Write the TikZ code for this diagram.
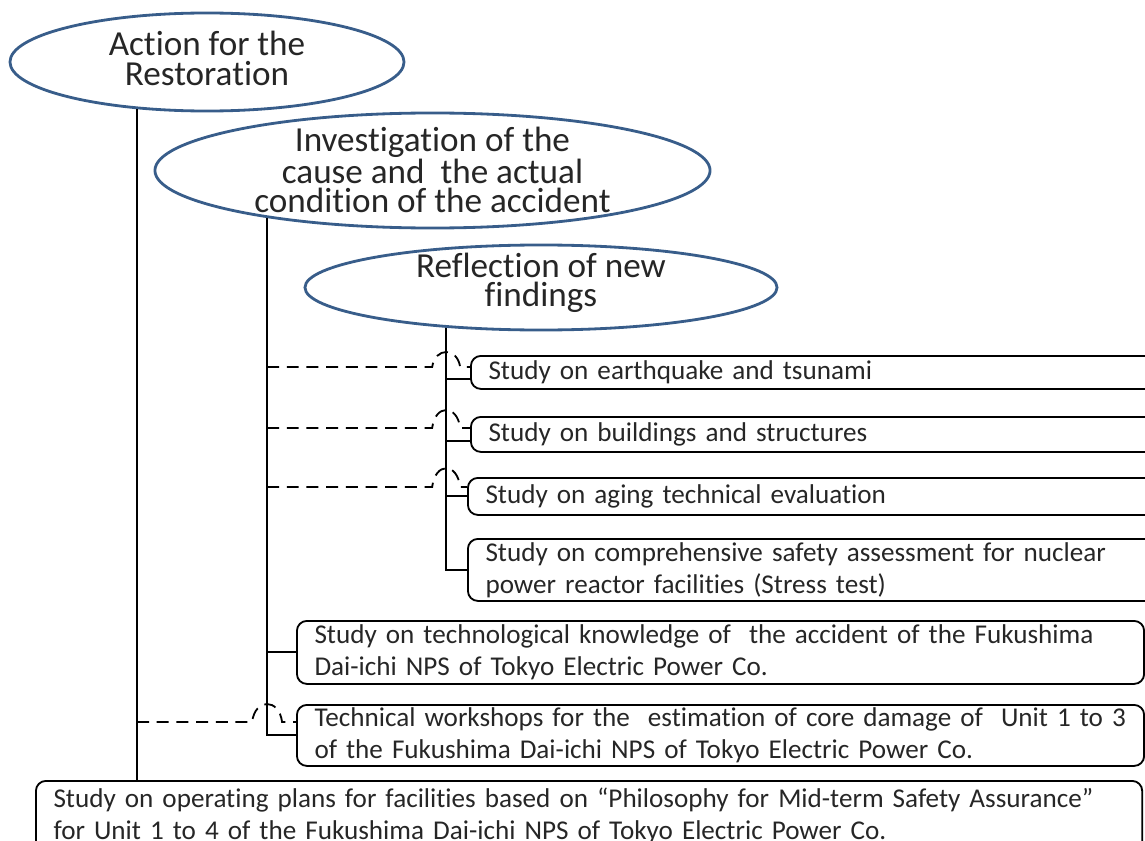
\documentclass[tikz,border=0pt]{standalone}
\usepackage{fontspec}
\setmainfont{Carlito}[Ligatures=NoCommon]
\usetikzlibrary{shapes.geometric}
\definecolor{ovalblue}{HTML}{385D8A}
\definecolor{inktext}{HTML}{262626}

\tikzset{
  oval/.style={draw=ovalblue, line width=2pt, ellipse, inner sep=0pt},
  ovaltext/.style={align=center, text=inktext, font=\fontsize{25}{20.8}\selectfont},
  studybox/.style={draw, line width=1.3pt, rounded corners=0.25cm, anchor=north west,
    align=left, inner xsep=0.44cm, inner ysep=0pt, text=inktext,
    font=\fontsize{19.3}{22.7}\selectfont},
  spine/.style={line width=1.5pt},
  hop/.style={line width=1.3pt, dash pattern=on 8.5pt off 5.5pt},
}

\begin{document}
\begin{tikzpicture}[x=0.025cm, y=-0.025cm]

\useasboundingbox (0,0) rectangle (1145,841);
\clip (0,0) rectangle (1145,841);

% ovals
\node[oval, minimum width=9.85cm, minimum height=2.45cm] (act) at (207,62) {};
\node[ovaltext] (acttext) at (207,58.5) {Action for the\\Restoration};

\node[oval, minimum width=13.875cm, minimum height=2.875cm] (inv) at (432.5,170.5) {};
\node[ovaltext] (invtext) at (432.5,170) {Investigation of the\\cause and~ the actual\\condition of the accident};

\node[oval, minimum width=11.8cm, minimum height=2.125cm] (refl) at (541,287.5) {};
\node[ovaltext] (refltext) at (541,283) {Reflection of new\\findings};

% study boxes
\node[studybox, text width=16.37cm, minimum height=0.825cm] (quake) at (470,355)
  {Study on earthquake and tsunami};
\node[studybox, text width=16.37cm, minimum height=0.875cm] (bldg) at (470,416)
  {Study on buildings and structures};
\node[studybox, text width=16.445cm, minimum height=0.925cm] (aging) at (467,477)
  {Study on aging technical evaluation};
\node[studybox, text width=16.445cm, minimum height=1.55cm] (stress) at (467,538)
  {Study on comprehensive safety assessment for nuclear\\power reactor facilities (Stress test)};
\node[studybox, text width=20.295cm, minimum height=1.575cm] (know) at (296,620)
  {Study on technological knowledge of~ the accident of the Fukushima\\Dai-ichi NPS of Tokyo Electric Power Co.};
\node[studybox, text width=20.295cm, minimum height=1.525cm] (tech) at (296,704)
  {Technical workshops for the~ estimation of core damage of~ Unit 1 to 3\\of the Fukushima Dai-ichi NPS of Tokyo Electric Power Co.};
\node[studybox, text width=26.77cm, minimum height=1.75cm] (plan) at (35,780)
  {Study on operating plans for facilities based on “Philosophy for Mid-term Safety Assurance”\\for Unit 1 to 4 of the Fukushima Dai-ichi NPS of Tokyo Electric Power Co.};

% solid spines
\draw[spine] (act.214.2) -- (act.214.2 |- plan.north);
\draw[spine] (inv.196.6) |- (tech.west);
\draw[spine] (inv.196.6 |- know.west) -- (know.west);
\draw[spine] (refl.203.4) |- (stress.west);
\draw[spine] (aging.west) -- (aging.west -| refl.203.4);
\draw[spine] (quake.west) ++(0,7) coordinate (qa) -- (qa -| refl.203.4);
\draw[spine] (bldg.west) ++(0,7) coordinate (ba) -- (ba -| refl.203.4);

% dashed links with hops
\coordinate (h1) at (270,367);
\coordinate (h2) at (270,428);
\coordinate (h3) at (270,487);
\coordinate (h4) at (137,722);
\draw[hop] (h1 -| inv.196.6) -- ([xshift=-0.35cm]h1 -| refl.203.4)
  .. controls +(3,-20) and +(-3,-20) .. ([xshift=0.35cm]h1 -| refl.203.4) -- (h1 -| quake.west);
\draw[hop] (h2 -| inv.196.6) -- ([xshift=-0.35cm]h2 -| refl.203.4)
  .. controls +(3,-24) and +(-3,-24) .. ([xshift=0.35cm]h2 -| refl.203.4) -- (h2 -| bldg.west);
\draw[hop] (h3 -| inv.196.6) -- ([xshift=-0.35cm]h3 -| refl.203.4)
  .. controls +(3,-25) and +(-3,-25) .. ([xshift=0.35cm]h3 -| refl.203.4) -- (h3 -| aging.west);
\draw[hop] (h4 -| act.214.2) -- ([xshift=-0.375cm]h4 -| inv.196.6)
  .. controls +(3,-24) and +(-3,-24) .. ([xshift=0.375cm]h4 -| inv.196.6) -- (h4 -| tech.west);

\end{tikzpicture}
\end{document}
